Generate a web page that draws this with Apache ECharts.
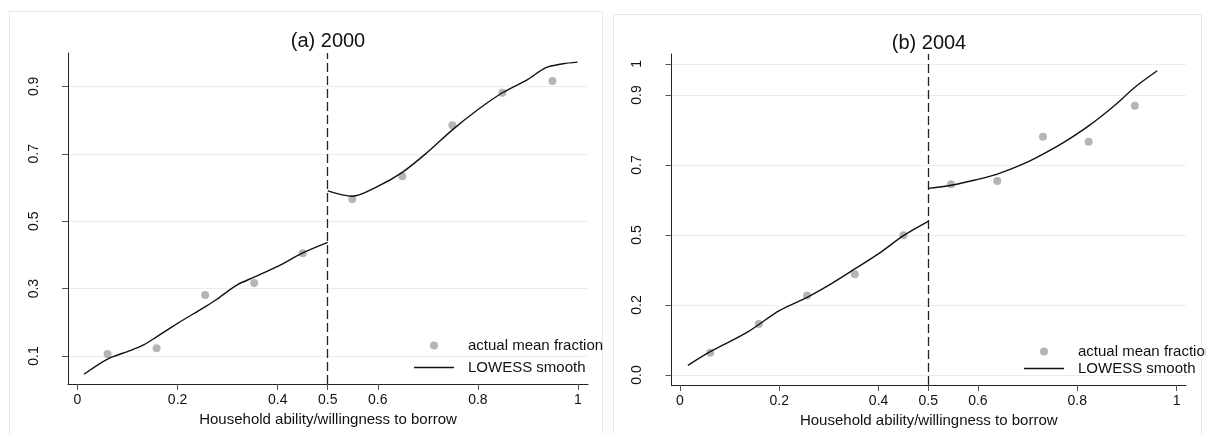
<!DOCTYPE html>
<html>
<head>
<meta charset="utf-8">
<script src="https://cdn.jsdelivr.net/npm/echarts@6/dist/echarts.min.js"></script>
<style>
  html, body { margin: 0; padding: 0; background: #fff; }
  #chart { width: 1206px; height: 434px; }
</style>
</head>
<body>
<div id="chart"></div>
<script>
// tick values and their printed labels
const xTicks = [0, 0.2, 0.4, 0.5, 0.6, 0.8, 1];
const xTickLabels = ['0', '0.2', '0.4', '0.5', '0.6', '0.8', '1'];
const yTicksA = [0.1, 0.3, 0.5, 0.7, 0.9];
const yTickLabelsA = ['0.1', '0.3', '0.5', '0.7', '0.9'];
const yTicksB = [0, 0.225, 0.45, 0.675, 0.9, 1];
const yTickLabelsB = ['0.0', '0.2', '0.5', '0.7', '0.9', '1'];
const cutoff = 0.5;

// (a) 2000 - actual mean fraction
const ptsXA = [0.060, 0.158, 0.255, 0.353, 0.450, 0.549, 0.649, 0.749, 0.849, 0.949];
const ptsYA = [0.106, 0.123, 0.281, 0.317, 0.405, 0.566, 0.633, 0.785, 0.881, 0.916];
// (a) 2000 - LOWESS, below and above the cutoff
const lowLeftXA = [0.013, 0.060, 0.105, 0.132, 0.158, 0.200, 0.255, 0.277, 0.319, 0.353, 0.400, 0.449, 0.500];
const lowLeftYA = [0.046, 0.091, 0.116, 0.133, 0.157, 0.197, 0.246, 0.267, 0.311, 0.334, 0.366, 0.405, 0.437];
const lowRightXA = [0.500, 0.549, 0.598, 0.649, 0.698, 0.749, 0.801, 0.849, 0.900, 0.935, 0.970, 0.999];
const lowRightYA = [0.590, 0.574, 0.602, 0.645, 0.703, 0.771, 0.832, 0.881, 0.921, 0.955, 0.967, 0.972];

// (b) 2004 - actual mean fraction
const ptsXB = [0.061, 0.159, 0.256, 0.352, 0.450, 0.546, 0.639, 0.731, 0.823, 0.916];
const ptsYB = [0.072, 0.164, 0.256, 0.324, 0.449, 0.613, 0.624, 0.766, 0.750, 0.866];
// (b) 2004 - LOWESS
const lowLeftXB = [0.016, 0.061, 0.135, 0.200, 0.256, 0.306, 0.352, 0.401, 0.450, 0.500];
const lowLeftYB = [0.031, 0.075, 0.137, 0.207, 0.250, 0.295, 0.341, 0.391, 0.448, 0.494];
const lowRightXB = [0.500, 0.546, 0.594, 0.639, 0.695, 0.731, 0.772, 0.823, 0.874, 0.916, 0.961];
const lowRightYB = [0.600, 0.610, 0.627, 0.646, 0.681, 0.710, 0.747, 0.801, 0.865, 0.925, 0.978];

const zip = (xs, ys) => xs.map((x, i) => [x, ys[i]]);
const labelFrom = (ticks, labels) => function (v) {
    const i = ticks.findIndex(t => Math.abs(t - v) < 1e-9);
    return i >= 0 ? labels[i] : '';
};

const FONT = 'Liberation Sans';
const DOT = '#a3a3a3';
const GRID_LINE = '#e5eef0';

function xAxisFor(gridIndex, min, max) {
    return {
        type: 'value', gridIndex: gridIndex, min: min, max: max,
        name: 'Household ability/willingness to borrow',
        nameLocation: 'middle', nameGap: 23,
        nameTextStyle: {fontSize: 15, color: '#111', fontFamily: FONT},
        axisLine: {show: true, onZero: false, lineStyle: {color: '#222', width: 1}},
        axisTick: {show: true, length: 6, customValues: xTicks, lineStyle: {color: '#555'}},
        axisLabel: {customValues: xTicks, formatter: labelFrom(xTicks, xTickLabels),
            fontSize: 14, color: '#111', margin: 9, fontFamily: FONT},
        splitLine: {show: false}
    };
}

function yAxisFor(gridIndex, min, max, ticks, labels) {
    return {
        type: 'value', gridIndex: gridIndex, min: min, max: max,
        axisLine: {show: true, onZero: false, lineStyle: {color: '#222', width: 1}},
        axisTick: {show: true, length: 6, customValues: ticks, lineStyle: {color: '#555'}},
        axisLabel: {customValues: ticks, formatter: labelFrom(ticks, labels), rotate: 90,
            fontSize: 14, color: '#111', margin: 27, fontFamily: FONT},
        splitLine: {show: true, lineStyle: {color: GRID_LINE, width: 1}}
    };
}

function panelSeries(idx, px, py, lx1, ly1, lx2, ly2) {
    const lineStyle = {color: '#111', width: 1.4};
    return [
        {
            name: 'actual mean fraction', type: 'scatter',
            xAxisIndex: idx, yAxisIndex: idx,
            data: zip(px, py), symbol: 'circle', symbolSize: 8,
            itemStyle: {color: DOT},
            markLine: {
                silent: true, symbol: ['none', 'none'], label: {show: false},
                lineStyle: {type: [9, 4], color: '#222', width: 1.3},
                data: [{xAxis: cutoff}]
            },
            z: 3
        },
        {
            name: 'LOWESS smooth', type: 'line',
            xAxisIndex: idx, yAxisIndex: idx,
            data: zip(lx1, ly1), symbol: 'none', smooth: 0.3,
            lineStyle: lineStyle, itemStyle: {color: '#111'}, z: 4
        },
        {
            name: 'LOWESS smooth', type: 'line',
            xAxisIndex: idx, yAxisIndex: idx,
            data: zip(lx2, ly2), symbol: 'none', smooth: 0.3,
            lineStyle: lineStyle, itemStyle: {color: '#111'}, z: 4
        }
    ];
}

function legendAt(left, top, gap) {
    return {
        left: left, top: top, orient: 'vertical', align: 'left',
        itemWidth: 40, itemHeight: 8, itemGap: gap, padding: 0,
        selectedMode: false, symbolKeepAspect: true,
        data: [
            {name: 'actual mean fraction', icon: 'circle'},
            {name: 'LOWESS smooth', icon: 'path://M0,0H40V1.3H0Z'}
        ],
        textStyle: {fontSize: 15, color: '#111', fontFamily: FONT, padding: [0, 0, 0, 9], lineHeight: 15}
    };
}

const chart = echarts.init(document.getElementById('chart'));
chart.setOption({
    animation: false,
    textStyle: {fontFamily: FONT},
    graphic: [
        {type: 'rect', silent: true, z: -10,
            shape: {x: 9.5, y: 11.5, width: 593, height: 440},
            style: {fill: 'none', stroke: '#e2ebed', lineWidth: 1}},
        {type: 'rect', silent: true, z: -10,
            shape: {x: 613.5, y: 14.5, width: 588, height: 440},
            style: {fill: 'none', stroke: '#e2ebed', lineWidth: 1}}
    ],
    title: [
        {text: '(a) 2000', left: 328, top: 31, textAlign: 'center', padding: 0,
            textStyle: {fontSize: 20, fontWeight: 'normal', color: '#111', fontFamily: FONT}},
        {text: '(b) 2004', left: 929, top: 33, textAlign: 'center', padding: 0,
            textStyle: {fontSize: 20, fontWeight: 'normal', color: '#111', fontFamily: FONT}}
    ],
    legend: [legendAt(414, 338, 7), legendAt(1024, 344, 2)],
    grid: [
        {left: 68, top: 53, width: 520, height: 331},
        {left: 671.5, top: 54, width: 514.5, height: 331}
    ],
    xAxis: [xAxisFor(0, -0.019, 1.02), xAxisFor(1, -0.017, 1.019)],
    yAxis: [
        yAxisFor(0, 0.017, 0.999, yTicksA, yTickLabelsA),
        yAxisFor(1, -0.032, 1.032, yTicksB, yTickLabelsB)
    ],
    series: [].concat(
        panelSeries(0, ptsXA, ptsYA, lowLeftXA, lowLeftYA, lowRightXA, lowRightYA),
        panelSeries(1, ptsXB, ptsYB, lowLeftXB, lowLeftYB, lowRightXB, lowRightYB)
    )
});
</script>
</body>
</html>
